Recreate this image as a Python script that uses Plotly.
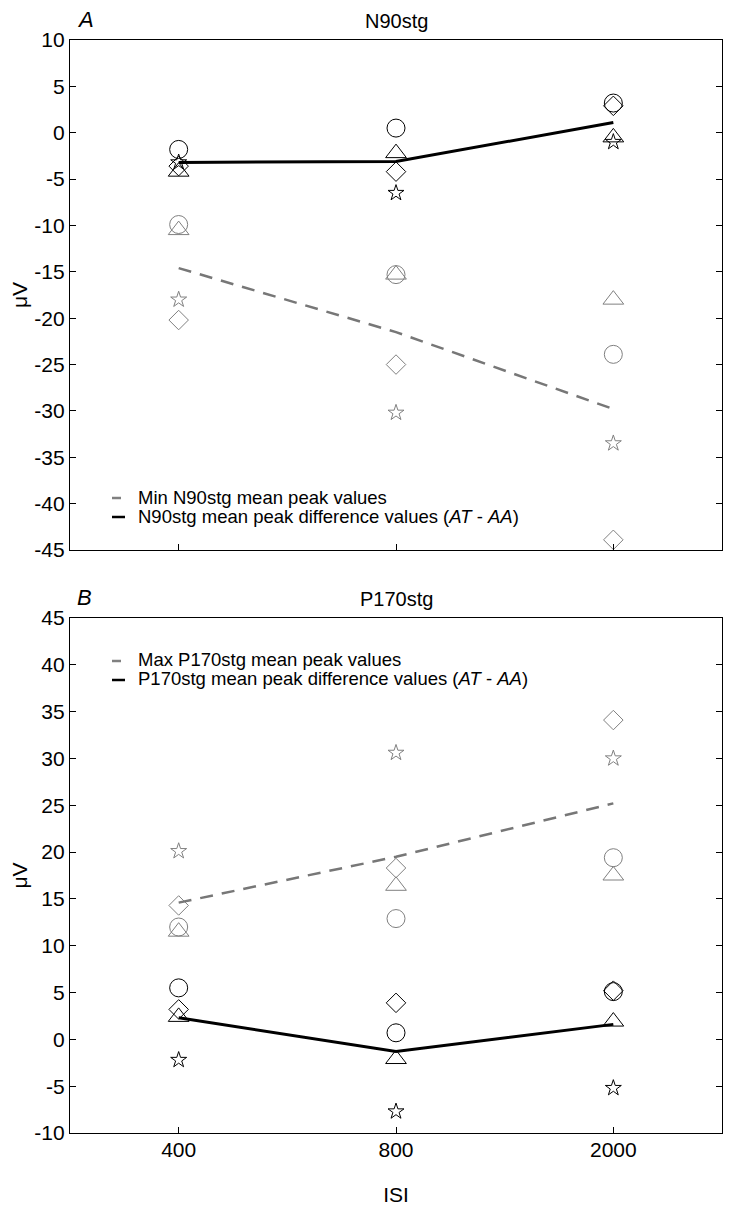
import plotly.graph_objects as go

# ---------------- data ----------------
isi = ["400", "800", "2000"]

# Panel A: N90stg
n90_diff_circle   = [-1.8, 0.5, 3.2]
n90_diff_triangle = [-4.2, -2.2, -0.5]
n90_diff_diamond  = [-3.6, -4.2, 2.9]
n90_diff_star     = [-3.2, -6.5, -1.0]
n90_diff_mean     = [-3.2, -3.1, 1.1]

n90_min_circle    = [-9.9, -15.3, -23.9]
n90_min_triangle  = [-10.5, -15.3, -18.0]
n90_min_diamond   = [-20.2, -25.0, -43.9]
n90_min_star      = [-18.0, -30.2, -33.5]
n90_min_mean      = [-14.6, -21.5, -29.8]

# Panel B: P170stg
p170_diff_circle   = [5.5, 0.7, 5.1]
p170_diff_triangle = [2.4, -2.1, 1.9]
p170_diff_diamond  = [3.2, 3.9, 5.2]
p170_diff_star     = [-2.2, -7.7, -5.2]
p170_diff_mean     = [2.3, -1.3, 1.6]

p170_max_circle    = [12.0, 12.9, 19.4]
p170_max_triangle  = [11.5, 16.4, 17.5]
p170_max_diamond   = [14.3, 18.3, 34.1]
p170_max_star      = [20.1, 30.6, 30.0]
p170_max_mean      = [14.6, 19.5, 25.2]

yticks_a = [10, 5, 0, -5, -10, -15, -20, -25, -30, -35, -40, -45]
yticks_b = [45, 40, 35, 30, 25, 20, 15, 10, 5, 0, -5, -10]

# ---------------- style ----------------
BLACK = "#000000"
GRAY = "#808080"
DGRAY = "#777777"
FONT = "Arial, Liberation Sans, sans-serif"

OFF = 8                 # page body margin
W, H = 751 - OFF, 1220 - OFF
L, R = 70 - OFF, 722 - OFF          # plot area x pixels (figure coords)
A_TOP, A_BOT = 40 - OFF, 550 - OFF
B_TOP, B_BOT = 618 - OFF, 1133 - OFF

sym = {
    "circle": ("circle-open", 18),
    "triangle": ("triangle-up-open", 18),
    "diamond": ("diamond-open", 15),
    "star": ("star-open", 12),
}

fig = go.Figure()


def add_markers(xa, ya, vals, shape, color):
    s, sz = sym[shape]
    fig.add_trace(go.Scatter(
        x=isi, y=vals, xaxis=xa, yaxis=ya, mode="markers",
        marker=dict(symbol=s, size=sz, color=color, line=dict(width=1, color=color)),
        showlegend=False, hoverinfo="x+y"))


# Panel A markers
for shape, vals in [("circle", n90_min_circle), ("triangle", n90_min_triangle),
                    ("diamond", n90_min_diamond), ("star", n90_min_star)]:
    add_markers("x", "y", vals, shape, GRAY)
for shape, vals in [("circle", n90_diff_circle), ("triangle", n90_diff_triangle),
                    ("diamond", n90_diff_diamond), ("star", n90_diff_star)]:
    add_markers("x", "y", vals, shape, BLACK)

fig.add_trace(go.Scatter(x=isi, y=n90_min_mean, xaxis="x", yaxis="y", mode="lines",
                         line=dict(color=DGRAY, width=2.5, dash="13px,9px"),
                         name="Min N90stg mean peak values", showlegend=False))
fig.add_trace(go.Scatter(x=isi, y=n90_diff_mean, xaxis="x", yaxis="y", mode="lines",
                         line=dict(color=BLACK, width=3),
                         name="N90stg mean peak difference values (AT - AA)", showlegend=False))

# Panel B markers
for shape, vals in [("circle", p170_max_circle), ("triangle", p170_max_triangle),
                    ("diamond", p170_max_diamond), ("star", p170_max_star)]:
    add_markers("x2", "y2", vals, shape, GRAY)
for shape, vals in [("circle", p170_diff_circle), ("triangle", p170_diff_triangle),
                    ("diamond", p170_diff_diamond), ("star", p170_diff_star)]:
    add_markers("x2", "y2", vals, shape, BLACK)

fig.add_trace(go.Scatter(x=isi, y=p170_max_mean, xaxis="x2", yaxis="y2", mode="lines",
                         line=dict(color=DGRAY, width=2.5, dash="13px,9px"),
                         name="Max P170stg mean peak values", showlegend=False))
fig.add_trace(go.Scatter(x=isi, y=p170_diff_mean, xaxis="x2", yaxis="y2", mode="lines",
                         line=dict(color=BLACK, width=3),
                         name="P170stg mean peak difference values (AT - AA)", showlegend=False))

plot_h = B_BOT - A_TOP
dom_a = [(B_BOT - A_BOT) / plot_h, 1.0]
dom_b = [0.0, (B_BOT - B_TOP) / plot_h]

axis_common = dict(showline=True, linecolor=BLACK, linewidth=1.2, ticks="inside",
                   ticklen=6, tickwidth=1.2, tickcolor=BLACK, showgrid=False,
                   zeroline=False, automargin=False,
                   tickfont=dict(family=FONT, size=21, color=BLACK))

fig.update_layout(
    width=W, height=H,
    margin=dict(l=L, r=W - R, t=A_TOP, b=H - B_BOT),
    paper_bgcolor="white", plot_bgcolor="white",
    font=dict(family=FONT, color=BLACK),
    xaxis=dict(domain=[0, 1], anchor="y", type="category", categoryorder="array",
               categoryarray=isi, range=[-0.5, 2.5], showticklabels=False,
               mirror=True, **axis_common),
    yaxis=dict(domain=dom_a, anchor="x", range=[-45, 10], tickvals=yticks_a,
               ticktext=[str(v) for v in yticks_a], mirror="ticks",
               title=dict(text="μV", font=dict(family=FONT, size=21), standoff=11),
               **axis_common),
    xaxis2=dict(domain=[0, 1], anchor="y2", type="category", categoryorder="array",
                categoryarray=isi, range=[-0.5, 2.5], mirror=True, ticklabelstandoff=-2,
                title=dict(text="ISI", font=dict(family=FONT, size=21), standoff=27),
                **axis_common),
    yaxis2=dict(domain=dom_b, anchor="x2", range=[-10, 45], tickvals=yticks_b,
                ticktext=[str(v) for v in yticks_b], mirror="ticks",
                title=dict(text="μV", font=dict(family=FONT, size=21), standoff=11),
                **axis_common),
)

ann = []
shapes = []


def px_x(px):
    return (px - OFF - L) / (R - L)


def add_panel_text(xref, yref, top, bot, title, letter, leg1, leg2, leg_y1, leg_y2):
    ph = bot - top
    ann.append(dict(text=title, xref=xref, yref=yref, x=0.5, y=1, xanchor="center",
                    yanchor="bottom", yshift=6, showarrow=False,
                    font=dict(family=FONT, size=20, color=BLACK)))
    ann.append(dict(text="<i>%s</i>" % letter, xref=xref, yref=yref, x=0, y=1,
                    xanchor="left", yanchor="bottom", xshift=5, yshift=6, showarrow=False,
                    font=dict(family=FONT, size=22, color=BLACK)))
    for txt, py, col, x1 in [(leg1, leg_y1, GRAY, 121), (leg2, leg_y2, BLACK, 125)]:
        py = py - OFF
        yy = (bot - py) / ph
        ann.append(dict(text=txt, xref=xref, yref=yref, x=px_x(136), y=yy,
                        xanchor="left", yanchor="middle", showarrow=False,
                        font=dict(family=FONT, size=18.5, color=BLACK)))
        shapes.append(dict(type="line", xref=xref, yref=yref, x0=px_x(112), x1=px_x(x1),
                           y0=(bot - py - 1) / ph, y1=(bot - py - 1) / ph,
                           line=dict(color=col, width=2.5)))


add_panel_text("x domain", "y domain", A_TOP, A_BOT, "N90stg", "A",
               "Min N90stg mean peak values",
               "N90stg mean peak difference values (<i>AT</i> - <i>AA</i>)", 497, 516)
add_panel_text("x2 domain", "y2 domain", B_TOP, B_BOT, "P170stg", "B",
               "Max P170stg mean peak values",
               "P170stg mean peak difference values (<i>AT</i> - <i>AA</i>)", 660, 679)

fig.update_layout(annotations=ann, shapes=shapes)

fig.write_html("out.html")
